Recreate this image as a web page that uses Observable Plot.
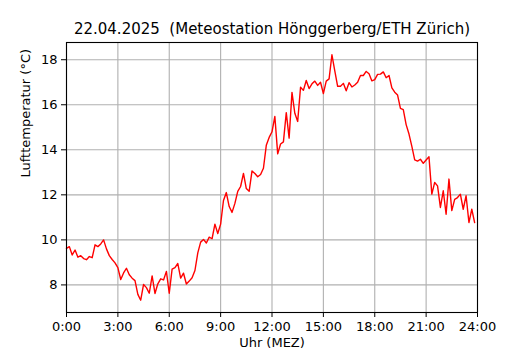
<!DOCTYPE html>
<html><head><meta charset="utf-8">
<script src="https://cdn.jsdelivr.net/npm/d3@7"></script>
<script src="https://cdn.jsdelivr.net/npm/@observablehq/plot@0.6"></script>
<style>
body{margin:0;background:#fff}
svg{font-family:"DejaVu Sans",sans-serif}
svg text{white-space:pre}
</style>
</head><body><div id="chart"></div><script>
const title = "22.04.2025  (Meteostation Hönggerberg/ETH Zürich)";
const xLabel = "Uhr (MEZ)";
const yLabel = "Lufttemperatur (°C)";
const xTicks = [0, 3, 6, 9, 12, 15, 18, 21, 24];
const xTickLabels = ["0:00","3:00","6:00","9:00","12:00","15:00","18:00","21:00","24:00"];
const yTicks = [8, 10, 12, 14, 16, 18];
const intervalMinutes = 10;
// temperature every 10 minutes, 0:00 .. 23:50
const temps = [
  9.62, 9.70, 9.33, 9.55, 9.23, 9.30,
  9.17, 9.12, 9.26, 9.21, 9.78, 9.70,
  9.82, 10.0, 9.60, 9.30, 9.13, 8.98,
  8.77, 8.24, 8.53, 8.74, 8.45, 8.30,
  8.19, 7.58, 7.32, 8.02, 7.88, 7.63,
  8.40, 7.62, 8.05, 8.27, 8.22, 8.60,
  7.63, 8.70, 8.77, 8.95, 8.30, 8.52,
  8.04, 8.17, 8.32, 8.64, 9.42, 9.90,
  10.02, 9.86, 10.12, 10.05, 10.70, 10.28,
  10.70, 11.75, 12.10, 11.48, 11.22, 11.62,
  12.15, 12.37, 12.95, 12.28, 12.16, 13.06,
  12.95, 12.80, 12.90, 13.18, 14.20, 14.55,
  14.80, 15.48, 13.82, 14.26, 14.35, 15.65,
  14.52, 16.55, 15.62, 15.26, 16.78, 16.64,
  17.08, 16.72, 16.93, 17.05, 16.86, 17.00,
  16.50, 17.05, 17.15, 18.22, 17.50, 16.82,
  16.82, 16.95, 16.62, 16.98, 16.79, 16.88,
  17.00, 17.30, 17.30, 17.48, 17.38, 17.06,
  17.12, 17.35, 17.36, 17.46, 17.20, 17.30,
  16.75, 16.56, 16.43, 15.84, 15.78, 15.12,
  14.70, 14.15, 13.55, 13.50, 13.58, 13.40,
  13.55, 13.69, 12.03, 12.55, 12.40, 11.44,
  12.18, 11.14, 12.70, 11.30, 11.80, 11.88,
  12.03, 11.36, 11.96, 10.77, 11.36, 10.77
];
const data = temps.map((t, i) => ({hour: i * intervalMinutes / 60, temp: t}));
const tMin = d3.min(temps), tMax = d3.max(temps), pad = (tMax - tMin) * 0.05;

const chart = Plot.plot({
  width: 530, height: 350,
  marginLeft: 66, marginRight: 53, marginTop: 42, marginBottom: 38,
  x: {domain: [0, 24]},
  y: {domain: [tMin - pad, tMax + pad]},
  style: {fontFamily: "DejaVu Sans, sans-serif", fontSize: "13px", background: "white", color: "black"},
  marks: [
    Plot.gridX(xTicks, {stroke: "#b0b0b0", strokeOpacity: 1, strokeWidth: 1.1}),
    Plot.gridY(yTicks, {stroke: "#b0b0b0", strokeOpacity: 1, strokeWidth: 1.1}),
    Plot.lineY(data, {x: "hour", y: "temp", stroke: "red", strokeWidth: 1.4}),
    Plot.frame({stroke: "black", strokeWidth: 1.1}),
    Plot.axisX(xTicks, {tickFormat: d => xTickLabels[xTicks.indexOf(d)], tickSize: 5, tickPadding: 4, fontSize: 13, label: null, stroke: "black"}),
    Plot.axisY(yTicks, {tickSize: 5, tickPadding: 4, fontSize: 13, label: null, stroke: "black"}),
    Plot.text([title], {frameAnchor: "top", lineAnchor: "middle", dy: -13, fontSize: 15, fill: "black"}),
    Plot.text([xLabel], {frameAnchor: "bottom", lineAnchor: "middle", dy: 30, fontSize: 13, fill: "black"}),
    Plot.text([yLabel], {frameAnchor: "left", lineAnchor: "middle", dx: -41, rotate: -90, fontSize: 13, fill: "black"})
  ]
});
document.getElementById("chart").appendChild(chart);
</script></body></html>
